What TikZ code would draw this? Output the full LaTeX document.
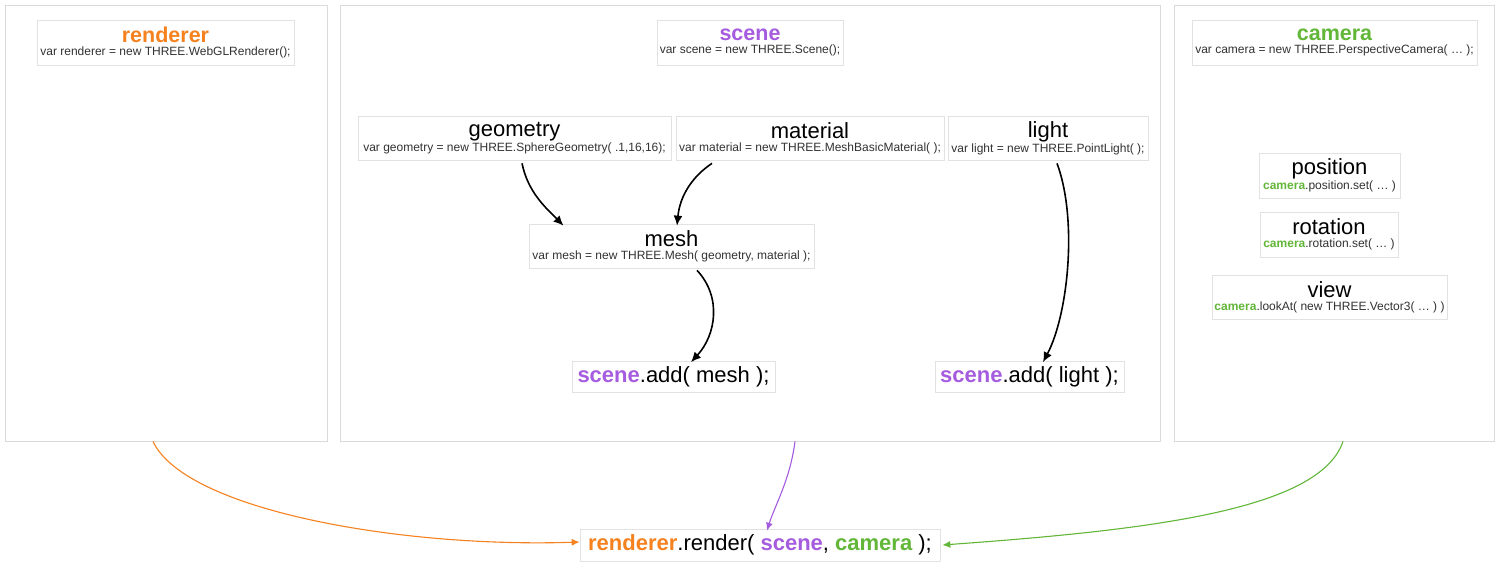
\documentclass[tikz,border=0pt]{standalone}
\usepackage{fontspec}
\setmainfont{Liberation Sans}
\usetikzlibrary{arrows.meta}
\definecolor{orng}{RGB}{246,130,31}
\definecolor{purp}{RGB}{166,92,222}
\definecolor{grn}{RGB}{98,182,56}
\definecolor{edge}{RGB}{218,218,218}
\definecolor{boxedge}{RGB}{226,226,226}
\definecolor{subtxt}{RGB}{50,50,50}
\newcommand{\ttl}[1]{{\fontsize{22}{22}\selectfont #1}}
\newcommand{\bttl}[2]{{\fontsize{21.5}{22}\selectfont\bfseries\color{#1}#2}}
\newcommand{\subt}[1]{{\fontsize{12}{13}\selectfont\color{subtxt}#1}}
\newcommand{\cam}{{\bfseries\color{grn}camera}}
\newcommand{\scn}{{\bfseries\color{purp}scene}}
\tikzset{
  panel/.style={draw=edge, line width=0.8pt, inner sep=0pt},
  codebox/.style={draw=boxedge, line width=0.7pt, inner sep=0pt, align=center},
  blackarrow/.style={draw=black, line width=1.6pt, -{Latex[length=10pt,width=9pt]}},
  colarrow/.style={line width=1.1pt, -{Latex[length=8pt,width=7pt]}}
}
\begin{document}
\begin{tikzpicture}[x=1pt,y=-1pt]
\useasboundingbox[fill=white] (0,0) rectangle (1499,568);
% panels
\node[panel, minimum width=322pt, minimum height=436pt] (rpanel) at (166,223) {};
\node[panel, minimum width=820pt, minimum height=436pt] (spanel) at (750,223) {};
\node[panel, minimum width=320pt, minimum height=436pt] (cpanel) at (1334,223) {};
% header boxes
\node[codebox, minimum width=257pt, minimum height=45pt] (rbox) at (165.5,42.5)
  {\bttl{orng}{renderer}\\[1pt]\subt{var renderer = new THREE.WebGLRenderer();}};
\node[codebox, minimum width=186pt, minimum height=45pt] (sbox) at (750,42.5)
  {\bttl{purp}{scene}\\[1pt]\subt{var scene = new THREE.Scene();}};
\node[codebox, minimum width=285pt, minimum height=45pt] (cbox) at (1334.5,42.5)
  {\bttl{grn}{camera}\\[1pt]\subt{var camera = new THREE.PerspectiveCamera( … );}};
% scene contents
\node[codebox, minimum width=313pt, minimum height=44pt] (geometry) at (514.5,138)
  {\ttl{geometry}\\[1pt]\subt{var geometry = new THREE.SphereGeometry( .1,16,16);}};
\node[codebox, minimum width=268pt, minimum height=44pt] (material) at (810,138)
  {\ttl{material}\\[1pt]\subt{var material = new THREE.MeshBasicMaterial( );}};
\node[codebox, minimum width=200pt, minimum height=44pt] (light) at (1048,138)
  {\ttl{light}\\[1pt]\subt{var light = new THREE.PointLight( );}};
\node[codebox, minimum width=285pt, minimum height=44pt] (mesh) at (671.5,246)
  {\ttl{mesh}\\[1pt]\subt{var mesh = new THREE.Mesh( geometry, material );}};
\node[codebox, minimum width=203pt, minimum height=31pt] (addmesh) at (673.5,376.5)
  {\ttl{\scn.add( mesh );}};
\node[codebox, minimum width=189pt, minimum height=31pt] (addlight) at (1029.5,376.5)
  {\ttl{\scn.add( light );}};
% camera contents
\node[codebox, minimum width=141pt, minimum height=45pt] (position) at (1329.5,175.5)
  {\ttl{position}\\[1pt]\subt{\cam.position.set( … )}};
\node[codebox, minimum width=138pt, minimum height=45pt] (rotation) at (1329,234.5)
  {\ttl{rotation}\\[1pt]\subt{\cam.rotation.set( … )}};
\node[codebox, minimum width=235pt, minimum height=44pt] (view) at (1329.5,297)
  {\ttl{view}\\[1pt]\subt{\cam.lookAt( new THREE.Vector3( … ) )}};
% render
\node[codebox, minimum width=360pt, minimum height=32pt] (render) at (760,545)
  {\ttl{{\bfseries\color{orng}renderer}.render( \scn, \cam\ );}};
% black arrows
\draw[blackarrow] ([xshift=7.5pt,yshift=-3pt]geometry.south) .. controls (528,192) and (545,207) .. ([xshift=-108pt,yshift=-2pt]mesh.north);
\draw[blackarrow] ([xshift=-98pt,yshift=-3pt]material.south) .. controls (693,176) and (680,195) .. ([xshift=5.5pt,yshift=-2pt]mesh.north);
\draw[blackarrow] ([xshift=25.5pt,yshift=-2pt]mesh.south) .. controls (722,297) and (716,335) .. ([xshift=17.5pt,yshift=-1.5pt]addmesh.north);
\draw[blackarrow] ([xshift=9pt,yshift=-3pt]light.south) .. controls (1078,220) and (1068,315) .. ([xshift=13.5pt,yshift=-1.5pt]addlight.north);
% coloured arrows
\draw[colarrow, orng] ([xshift=-13pt]rpanel.south) .. controls (185,510) and (400,548) .. ([yshift=3pt]render.west);
\draw[colarrow, purp] ([xshift=45pt]spanel.south) .. controls (790,480) and (775,505) .. ([xshift=7pt,yshift=-2pt]render.north);
\draw[colarrow, grn] ([xshift=9pt]cpanel.south) .. controls (1320,510) and (1150,530) .. ([xshift=2pt]render.east);
\end{tikzpicture}
\end{document}
